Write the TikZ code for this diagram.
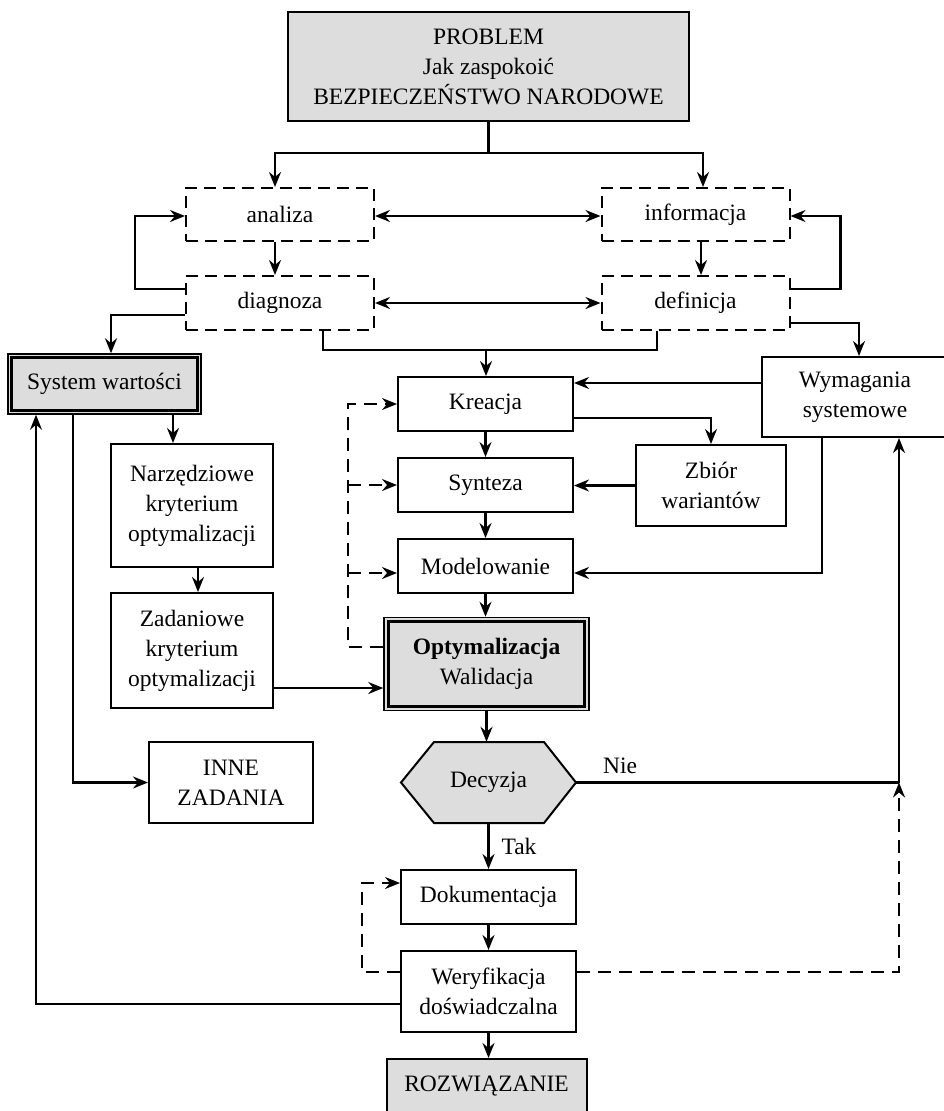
\documentclass[tikz,border=0pt]{standalone}
\usepackage{fontspec}
\setmainfont{Liberation Serif}
\usetikzlibrary{arrows.meta,calc}
\definecolor{boxgrey}{HTML}{DDDDDD}
\begin{document}
\begin{tikzpicture}[x=1pt,y=-1pt,
  font=\fontsize{23.5}{30}\selectfont,
  box/.style={draw, line width=2pt, align=center, inner sep=0pt},
  dbox/.style={box, dash pattern=on 12pt off 7pt},
  grey/.style={fill=boxgrey},
  tip/.tip={Stealth[length=15pt,width=12pt,inset=5pt]},
  conn/.style={line width=2.2pt, -tip},
  plain/.style={line width=2.2pt},
  both/.style={line width=2.2pt, tip-tip},
  dconn/.style={line width=2.2pt, dash pattern=on 13pt off 8pt, -tip},
  inner frame/.style={line width=2.6pt}
]
\useasboundingbox[fill=white] (0,0) rectangle (943,1111);

% ---- boxes ----
\node[box,grey,minimum width=401pt,minimum height=109pt] (problem) at (488.5,66.5)
  {PROBLEM\\Jak zaspokoić\\BEZPIECZEŃSTWO NARODOWE};

\node[dbox,minimum width=188pt,minimum height=53pt] (analiza) at (280,214.5) {analiza};
\node[dbox,minimum width=188pt,minimum height=53pt] (informacja) at (695.5,214.5) {informacja};
\node[dbox,minimum width=188pt,minimum height=54pt] (diagnoza) at (280,303) {diagnoza};
\node[dbox,minimum width=188pt,minimum height=54pt] (definicja) at (695.5,303) {definicja};

\node[box,grey,line width=1.5pt,minimum width=193pt,minimum height=60pt] (system) at (104.5,384) {System wartości};
\draw[inner frame] ([xshift=4pt,yshift=-4pt]system.north west) rectangle ([xshift=-4pt,yshift=4pt]system.south east);

\node[box,minimum width=175pt,minimum height=54pt] (kreacja) at (485.5,404) {Kreacja};
\node[box,minimum width=175pt,minimum height=54pt] (synteza) at (485.5,485) {Synteza};
\node[box,minimum width=175pt,minimum height=54pt] (modelowanie) at (485.5,566) {Modelowanie};

\node[box,grey,line width=1.5pt,minimum width=205pt,minimum height=93pt] (optym) at (486.5,664)
  {\textbf{Optymalizacja}\\Walidacja};
\draw[inner frame] ([xshift=5pt,yshift=-5pt]optym.north west) rectangle ([xshift=-5pt,yshift=5pt]optym.south east);

\node[box,minimum width=186pt,minimum height=80pt] (wymagania) at (855,397) {Wymagania\\systemowe};
\node[box,minimum width=150pt,minimum height=81pt] (zbior) at (711,485.5) {Zbiór\\wariantów};

\node[box,minimum width=162pt,minimum height=123pt] (narz) at (192,505.5) {Narzędziowe\\kryterium\\optymalizacji};
\node[box,minimum width=162pt,minimum height=115pt] (zadan) at (192,650.5) {Zadaniowe\\kryterium\\optymalizacji};
\node[box,minimum width=164pt,minimum height=81pt] (inne) at (231,782.5) {INNE\\ZADANIA};

% decision hexagon
\coordinate (dc) at (488.5,782.5);
\filldraw[grey, draw=black, line width=2pt]
  ($(dc)+(-87.5,0)$) -- ($(dc)+(-54.5,-40.5)$) -- ($(dc)+(55.5,-40.5)$) --
  ($(dc)+(87.5,0)$) -- ($(dc)+(55.5,40.5)$) -- ($(dc)+(-54.5,40.5)$) -- cycle;
\node[inner sep=0pt,minimum width=175pt,minimum height=81pt] (decyzja) at (dc) {Decyzja};

\node[box,minimum width=175pt,minimum height=54pt] (dokumentacja) at (488.5,897) {Dokumentacja};
\node[box,minimum width=175pt,minimum height=81pt] (weryfikacja) at (488.5,991.5) {Weryfikacja\\doświadczalna};
\node[box,grey,minimum width=200pt,minimum height=54pt] (rozw) at (486.5,1086) {ROZWIĄZANIE};

% ---- labels ----
\node (nie) at (620,766) {Nie};
\node (tak) at (519,846) {Tak};

% ---- connectors ----
\coordinate (split) at (488.5,153);
\draw[plain] (problem.south) -- (split);
\draw[conn] (split) -| ([xshift=-5pt]analiza.north);
\draw[conn] (split) -| ([xshift=7.5pt]informacja.north);

\draw[both] ([yshift=-1.5pt]analiza.east) -- ([yshift=-1.5pt]informacja.west);
\draw[both] (diagnoza.east) -- (definicja.west);
\draw[conn] ([xshift=-5pt]analiza.south) -- ([xshift=-5pt]diagnoza.north);
\draw[conn] ([xshift=5.5pt]informacja.south) -- ([xshift=5.5pt]definicja.north);

\draw[conn] ([yshift=14pt]diagnoza.west) -- ++(-50,0) |- ([yshift=-1.5pt]analiza.west);
\draw[conn] ([yshift=14pt]definicja.east) -- ++(50,0) |- ([yshift=-1.5pt]informacja.east);

\draw[conn] ([yshift=-12pt]diagnoza.west) -| ([xshift=6.5pt]system.north);
\draw[conn] ([yshift=-20pt]definicja.east) -| ([xshift=4pt]wymagania.north);

\coordinate (merge) at (486,350);
\draw[plain] ([xshift=43pt]diagnoza.south) |- (merge) -| ([xshift=-38.5pt]definicja.south);
\draw[conn] (merge) -- (merge |- kreacja.north);

\draw[conn] ([yshift=14pt]wymagania.west) -- ([yshift=14pt]wymagania.west -| kreacja.east);
\draw[conn] ([yshift=-14pt]kreacja.east) -| (zbior.north);
\draw[conn] (zbior.west) -- (zbior.west -| synteza.east);
\coordinate (modin) at ([yshift=-7pt]modelowanie.east);
\draw[conn] ([xshift=-33pt]wymagania.south) |- (modin);

\draw[conn] (kreacja.south) -- (synteza.north);
\draw[conn] (synteza.south) -- (modelowanie.north);
\draw[conn] (modelowanie.south) -- (modelowanie.south |- optym.north);
\draw[conn] (optym.south) -- (optym.south |- decyzja.north);

% dashed feedback from optimisation
\coordinate (dl) at (348,0);
\coordinate (modfb) at ([yshift=-7pt]modelowanie.west);
\draw[dconn] ([yshift=17pt]optym.west) -| (dl |- kreacja.west) -- (kreacja.west);
\draw[dconn] (dl |- synteza.west) -- (synteza.west);
\draw[dconn] (dl |- modfb) -- (modfb);

\draw[conn] ([xshift=68.5pt]system.south) -- ([xshift=68.5pt]system.south |- narz.north);
\draw[conn] ([xshift=6pt]narz.south) -- ([xshift=6pt]zadan.north);
\coordinate (zout) at ([yshift=-37.5pt]zadan.east);
\draw[conn] (zout) -- (zout -| optym.west);
\draw[conn] ([xshift=-31.5pt]system.south) |- (inne.west);
\draw[conn] ([yshift=-12.5pt]weryfikacja.west) -| ([xshift=-68.5pt]system.south);

% decision outcomes
\coordinate (wyin) at ([xshift=44pt]wymagania.south);
\coordinate (nj) at (wyin |- decyzja.east);
\draw[plain] (decyzja.east) -- (nj);
\draw[conn] (nj) -- (wyin);
\draw[conn] (decyzja.south) -- (dokumentacja.north);
\draw[conn] (dokumentacja.south) -- (weryfikacja.north);
\draw[conn] (weryfikacja.south) -- (weryfikacja.south |- rozw.north);

\draw[dconn] ([yshift=19.5pt]weryfikacja.west) -- ++(-38,0) |- ([yshift=14pt]dokumentacja.west);
\draw[dconn] ([yshift=19.5pt]weryfikacja.east) -| (nj);
\end{tikzpicture}
\end{document}
